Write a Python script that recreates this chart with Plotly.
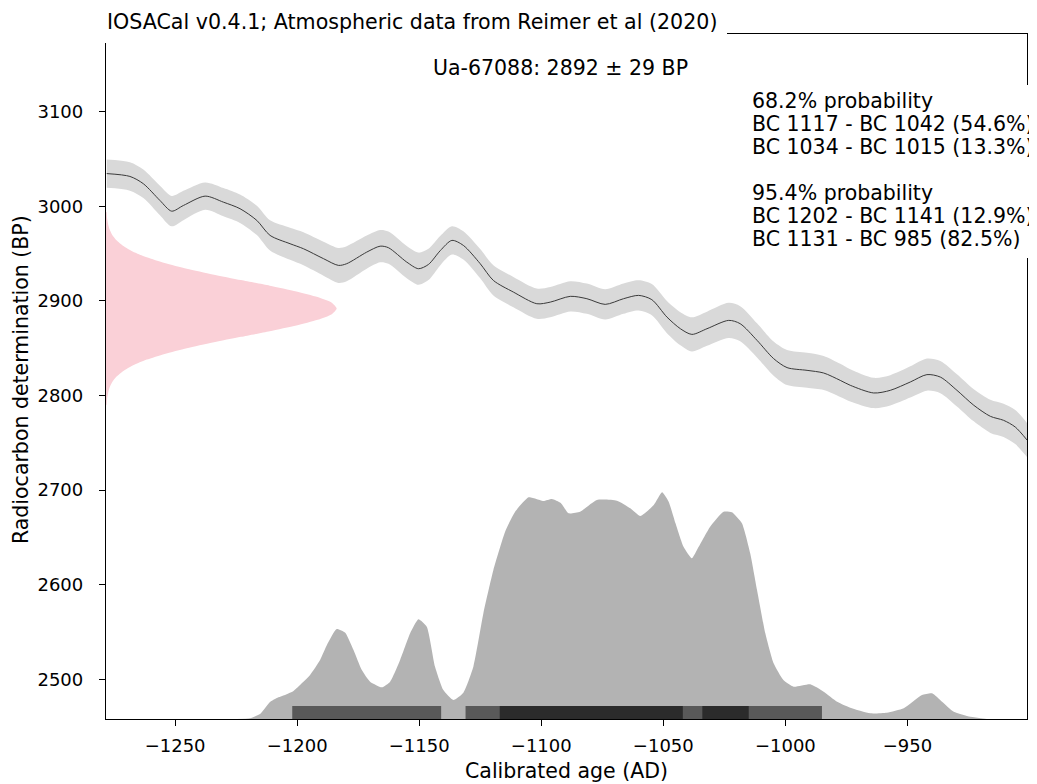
import plotly.graph_objects as go

# ---------------- data ----------------
# calibration curve (calendar year, BP, 1-sigma half width)
curve_age = [-1278.0, -1268.5, -1263.0, -1256.2, -1251.4, -1246.6, -1237.7, -1230.2, -1223.4, -1216.5,
             -1211.1, -1202.9, -1197.4, -1189.2, -1183.1, -1179.7, -1171.5, -1166.0, -1162.6, -1155.1,
             -1150.3, -1146.2, -1141.4, -1136.6, -1131.9, -1125.0, -1119.6, -1111.4, -1101.8, -1096.3,
             -1088.1, -1081.3, -1073.8, -1066.3, -1060.1, -1054.7, -1048.5, -1043.0, -1038.3, -1032.1,
             -1023.2, -1018.5, -1011.6, -1004.8, -999.3, -991.1, -984.3, -977.5, -973.4, -963.8,
             -957.0, -948.8, -942.0, -936.5, -929.7, -922.8, -916.0, -910.6, -905.8, -901.0]
curve_bp = [3034.5, 3031.5, 3023.8, 3006.1, 2994.8, 3000.8, 3010.7, 3004.3, 2997.4, 2985.0,
            2969.2, 2960.4, 2955.1, 2944.6, 2937.5, 2939.3, 2951.5, 2957.8, 2956.2, 2941.0,
            2934.0, 2938.5, 2953.0, 2963.9, 2958.6, 2939.3, 2921.6, 2909.3, 2897.0, 2898.7,
            2904.8, 2902.3, 2896.3, 2902.3, 2905.8, 2901.3, 2882.9, 2870.6, 2864.6, 2870.6,
            2879.4, 2875.9, 2858.3, 2839.0, 2829.5, 2826.6, 2823.8, 2816.0, 2810.8, 2802.7,
            2805.5, 2814.3, 2822.1, 2819.5, 2805.5, 2789.7, 2778.0, 2773.8, 2766.7, 2753.0]
curve_sigma = [15.0, 15.0, 15.0, 15.5, 16.0, 15.5, 14.5, 15.0, 15.0, 15.5,
               16.0, 17.0, 17.5, 18.0, 18.5, 18.5, 17.5, 17.0, 17.0, 17.0,
               17.0, 16.5, 15.5, 15.0, 15.0, 15.5, 16.0, 16.0, 16.0, 16.0,
               16.0, 16.0, 16.0, 16.0, 16.0, 16.5, 17.0, 17.5, 18.0, 18.0,
               18.5, 18.5, 18.0, 18.0, 18.5, 18.5, 18.0, 17.5, 17.0, 16.0,
               16.0, 16.5, 17.0, 17.0, 17.0, 17.0, 17.5, 17.5, 18.0, 18.0]

# calibrated probability distribution (relative units)
cal_age = [-1224.7, -1219.3, -1215.2, -1211.1, -1208.3, -1205.0, -1201.5, -1198.8, -1194.7, -1190.6,
           -1187.8, -1183.8, -1180.3, -1176.9, -1173.5, -1170.1, -1165.3, -1161.9, -1157.8, -1153.7,
           -1150.3, -1146.9, -1143.5, -1140.1, -1136.0, -1131.9, -1127.8, -1123.7, -1119.6, -1114.8,
           -1110.7, -1105.2, -1102.0, -1099.1, -1095.6, -1092.0, -1088.8, -1084.1, -1077.2, -1069.0,
           -1063.5, -1059.4, -1053.9, -1050.5, -1047.8, -1045.0, -1041.7, -1038.3, -1036.2, -1030.8,
           -1025.3, -1021.9, -1017.8, -1014.4, -1011.6, -1008.2, -1004.8, -1000.8, -996.6, -989.8,
           -984.3, -978.8, -973.4, -965.2, -958.4, -951.5, -944.0, -939.9, -935.8, -931.0,
           -924.2, -917.4]
cal_prob = [0.0, 0.7, 5.0, 17.0, 21.0, 24.0, 28.0, 34.0, 44.0, 59.0,
            74.0, 90.0, 86.3, 69.0, 49.0, 37.3, 31.7, 37.3, 59.0, 85.7,
            99.7, 92.3, 52.3, 29.0, 19.0, 26.3, 52.3, 105.7, 149.0, 187.3,
            207.3, 221.7, 220.0, 218.0, 220.0, 216.0, 205.7, 207.3, 219.0, 218.3,
            210.7, 203.0, 214.0, 226.7, 217.3, 195.7, 172.3, 160.7, 169.0, 192.3,
            207.3, 206.7, 195.7, 165.7, 129.0, 85.7, 55.7, 39.0, 32.3, 34.7,
            27.3, 17.3, 11.3, 5.7, 6.3, 10.7, 24.0, 25.7, 17.3, 7.3,
            2.3, 0.0]

# radiocarbon determination and its (pink) distribution
date_bp = 2892
date_err = 29
pink_offset = [-102, -96, -90, -84, -78, -72, -66, -60, -54, -48, -42, -36, -30, -24, -18, -12, -6, 0,
               6, 12, 18, 24, 30, 36, 42, 48, 54, 60, 66, 72, 78, 84, 90, 96, 102]
pink_width = [0.2, 0.4, 0.8, 1.4, 2.5, 4.3, 7.1, 11.1, 16.7, 24.0, 33.1, 43.7, 55.3, 67.1, 78.0, 86.7, 92.5, 94.5,
              92.5, 86.7, 78.0, 67.1, 55.3, 43.7, 33.1, 24.0, 16.7, 11.1, 7.1, 4.3, 2.5, 1.4, 0.8, 0.4, 0.2]

# highest density ranges
hpd95_start = [-1202, -1131]
hpd95_end = [-1141, -985]
hpd68_start = [-1117, -1034]
hpd68_end = [-1042, -1015]

x_ticks = [-1250, -1200, -1150, -1100, -1050, -1000, -950]
y_ticks = [2500, 2600, 2700, 2800, 2900, 3000, 3100]

title_text = "IOSACal v0.4.1; Atmospheric data from Reimer et al (2020)"
sample_text = "Ua-67088: 2892 ± 29 BP"
prob_lines = ["68.2% probability", "BC 1117 - BC 1042 (54.6%)", "BC 1034 - BC 1015 (13.3%)", "",
              "95.4% probability", "BC 1202 - BC 1141 (12.9%)", "BC 1131 - BC 985 (82.5%)"]

# ---------------- layout constants ----------------
PAGE_OFF = 8                      # default body margin of the html page
W, H = 1029, 776
ML, MR, MT, MB = 98, 10, 26, 65
X_RANGE = [-1278.3, -901.0]
Y_RANGE = [2458.2, 3182.0]
BAR_TOP = 2472.0
FONT = "DejaVu Sans"


def px_x(px):
    return (px - PAGE_OFF - ML) / (W - ML - MR)


def px_y(py):
    return (H - MB - (py - PAGE_OFF)) / (H - MT - MB)


fig = go.Figure()

# calibration curve band
lower = [b - s for b, s in zip(curve_bp, curve_sigma)]
upper = [b + s for b, s in zip(curve_bp, curve_sigma)]
fig.add_trace(go.Scatter(x=curve_age, y=lower, mode="lines", line=dict(width=0, shape="spline", smoothing=0.8),
                         hoverinfo="skip"))
fig.add_trace(go.Scatter(x=curve_age, y=upper, mode="lines", fill="tonexty", fillcolor="#d9d9d9",
                         line=dict(width=0, shape="spline", smoothing=0.8), hoverinfo="skip"))
fig.add_trace(go.Scatter(x=curve_age, y=curve_bp, mode="lines",
                         line=dict(color="#3a3a3a", width=1, shape="spline", smoothing=0.8)))

# radiocarbon date distribution (pink)
x_left = X_RANGE[0]
pink_x = [x_left] + [x_left + w for w in pink_width] + [x_left]
pink_y = [date_bp + pink_offset[0]] + [date_bp + o for o in pink_offset] + [date_bp + pink_offset[-1]]
fig.add_trace(go.Scatter(x=pink_x, y=pink_y, mode="lines", fill="toself", fillcolor="rgb(250,208,215)",
                         line=dict(width=0, shape="spline", smoothing=0.6), hoverinfo="skip"))

# calibrated distribution on secondary axis
fig.add_trace(go.Scatter(x=cal_age, y=cal_prob, mode="lines", fill="tozeroy", fillcolor="#b3b3b3",
                         line=dict(width=0, shape="spline", smoothing=0.5), yaxis="y2", hoverinfo="skip"))

# HPD bars
bar_h = BAR_TOP - Y_RANGE[0]
bar_c = Y_RANGE[0] + bar_h / 2
fig.add_trace(go.Bar(orientation="h", base=hpd95_start, x=[e - s for s, e in zip(hpd95_start, hpd95_end)],
                     y=[bar_c] * len(hpd95_start), width=bar_h, marker=dict(color="#595959", line=dict(width=0)),
                     yaxis="y3"))
fig.add_trace(go.Bar(orientation="h", base=hpd68_start, x=[e - s for s, e in zip(hpd68_start, hpd68_end)],
                     y=[bar_c] * len(hpd68_start), width=bar_h, marker=dict(color="#2b2b2b", line=dict(width=0)),
                     yaxis="y3"))

prob_peak_frac = px_y(492.3)
y2_max = max(cal_prob) / prob_peak_frac

axis_common = dict(showline=True, linecolor="black", linewidth=1.3, mirror=True, showgrid=False,
                   zeroline=False, ticks="outside", ticklen=6, tickwidth=1.3, tickcolor="black",
                   tickfont=dict(family=FONT, size=18, color="black"))

fig.update_layout(
    width=W, height=H,
    margin=dict(l=ML, r=MR, t=MT, b=MB),
    paper_bgcolor="white", plot_bgcolor="white",
    showlegend=False, barmode="overlay",
    font=dict(family=FONT, color="black"),
    xaxis=dict(range=X_RANGE, tickvals=x_ticks, ticklabelstandoff=4, **axis_common),
    yaxis=dict(range=Y_RANGE, tickvals=y_ticks, ticklabelstandoff=12, **axis_common),
    yaxis2=dict(range=[0, y2_max], overlaying="y", visible=False),
    yaxis3=dict(range=Y_RANGE, overlaying="y", visible=False),
)

shapes = [
    dict(type="rect", xref="paper", yref="paper", x0=px_x(102), x1=px_x(727), y0=px_y(43), y1=px_y(8),
         fillcolor="white", line=dict(width=0), layer="above"),
    dict(type="rect", xref="paper", yref="paper", x0=px_x(745), x1=px_x(1036), y0=px_y(258), y1=px_y(85),
         fillcolor="white", line=dict(width=0), layer="above"),
]
fig.update_layout(shapes=shapes)

ann = []
ann.append(dict(text=title_text, xref="paper", yref="paper", x=px_x(106), y=px_y(22), xanchor="left",
                yanchor="middle", showarrow=False, borderpad=0, font=dict(family=FONT, size=20.6)))
ann.append(dict(text=sample_text, xref="paper", yref="paper", x=px_x(560.5), y=px_y(68), xanchor="center",
                yanchor="middle", showarrow=False, borderpad=0, font=dict(family=FONT, size=20.5)))
for i, line in enumerate(prob_lines):
    if line:
        ann.append(dict(text=line, xref="paper", yref="paper", x=px_x(751), y=px_y(101 + 23 * i),
                        xanchor="left", yanchor="middle", showarrow=False, borderpad=0,
                        font=dict(family=FONT, size=20.5)))
ann.append(dict(text="Calibrated age (AD)", xref="paper", yref="paper", x=px_x(566.5), y=px_y(771),
                xanchor="center", yanchor="middle", showarrow=False, font=dict(family=FONT, size=20.5)))
ann.append(dict(text="Radiocarbon determination (BP)", xref="paper", yref="paper", x=px_x(21), y=px_y(380),
                xanchor="center", yanchor="middle", textangle=-90, showarrow=False,
                font=dict(family=FONT, size=20.5)))
fig.update_layout(annotations=ann)

fig.write_html("out.html")
